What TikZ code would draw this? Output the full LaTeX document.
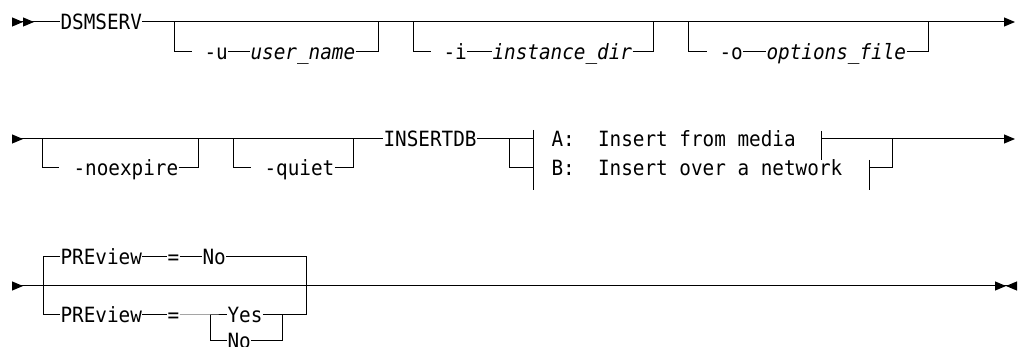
\documentclass[tikz,border=0pt]{standalone}
\usepackage{fontspec}
\setmonofont[FakeStretch=0.92]{DejaVu Sans Mono}
\usetikzlibrary{arrows.meta}

\begin{document}
\begin{tikzpicture}[
    x=1pt, y=-1pt,
    line width=1pt,
    tri/.tip={Triangle[length=11pt, width=9pt]},
    syntax word/.style={inner sep=0pt, anchor=west, text height=15.3pt, text depth=0pt, font=\ttfamily\fontsize{21}{24}\selectfont},
    syntax var/.style={syntax word, font=\ttfamily\itshape\fontsize{21}{24}\selectfont}
]
    \useasboundingbox (0,0) rectangle (1021,347);

    % ================= ROW 1: DSMSERV OPTIONS =================
    \coordinate (S1) at (12,22);
    \coordinate (E1) at (1015,22);
    \node[syntax word] (DSM) at (60,22) {DSMSERV};

    \coordinate (U_IN) at (174,22);
    \coordinate (U_OUT) at (378,22);
    \node[syntax word] (U) at (204,52) {-u};
    \node[syntax var] (UNAME) at (250,52) {user\_name};

    \coordinate (I_IN) at (413,22);
    \coordinate (I_OUT) at (653,22);
    \node[syntax word] (I) at (443,52) {-i};
    \node[syntax var] (IDIR) at (492,52) {instance\_dir};

    \coordinate (O_IN) at (688,22);
    \coordinate (O_OUT) at (928,22);
    \node[syntax word] (O) at (719,52) {-o};
    \node[syntax var] (OFILE) at (766,52) {options\_file};

    \draw[{tri[reversed]tri[reversed]}-] (S1) -- (DSM.west);
    \draw[-{tri}] (DSM.east) -- (E1);

    \draw (U_IN) |- ([xshift=-12pt]U.west);
    \draw (U) -- (UNAME);
    \draw (UNAME.east) -| (U_OUT);

    \draw (I_IN) |- ([xshift=-12pt]I.west);
    \draw (I) -- (IDIR);
    \draw (IDIR.east) -| (I_OUT);

    \draw (O_IN) |- ([xshift=-12pt]O.west);
    \draw (O) -- (OFILE);
    \draw (OFILE.east) -| (O_OUT);

    % ================= ROW 2: FLAGS AND INSERTDB =================
    \coordinate (S2) at (12,139);
    \coordinate (E2) at (1015,139);
    \node[syntax word] (INS) at (383,139) {INSERTDB};

    \coordinate (NX_IN) at (42,139);
    \coordinate (NX_OUT) at (198,139);
    \node[syntax word] (NX) at (73,168) {-noexpire};

    \coordinate (QT_IN) at (233,139);
    \coordinate (QT_OUT) at (353,139);
    \node[syntax word] (QT) at (264,168) {-quiet};

    \draw[{tri[reversed]}-] (S2) -- (INS.west);

    \draw (NX_IN) |- ([xshift=-14pt]NX.west);
    \draw (NX.east) -| (NX_OUT);

    \draw (QT_IN) |- ([xshift=-13pt]QT.west);
    \draw (QT.east) -| (QT_OUT);

    % fragments A and B
    \coordinate (BAR_TOP) at (533,130);
    \coordinate (BAR_BOT) at (533,190);
    \coordinate (SPLIT) at (509,139);
    \node[syntax word] (FA) at (551,139) {A:~~Insert from media};
    \node[syntax word] (FB) at (551,168) {B:~~Insert over a network};

    \coordinate (A_TOP) at (821,131);
    \coordinate (A_BOT) at (821,160);
    \coordinate (A_OUT) at (821,139);
    \coordinate (B_TOP) at (869,160);
    \coordinate (B_BOT) at (869,190);
    \coordinate (B_OUT) at (869,168);
    \coordinate (MERGE) at (892,139);

    \draw (INS.east) -- (BAR_TOP |- INS);
    \draw (BAR_TOP) -- (BAR_BOT);
    \draw (SPLIT) |- (BAR_TOP |- FB);

    \draw (A_TOP) -- (A_BOT);
    \draw (B_TOP) -- (B_BOT);
    \draw[-{tri}] (A_OUT) -- (E2);
    \draw (B_OUT) -| (MERGE);

    % ================= ROW 3: PREVIEW =================
    \coordinate (S3) at (12,286);
    \coordinate (E3) at (1017,286);

    \coordinate (PV_TL) at (43,257);
    \coordinate (PV_BL) at (43,315);
    \coordinate (PV_TR) at (306,257);
    \coordinate (PV_BR) at (306,315);

    \node[syntax word] (PV1) at (60,257) {PREview};
    \node[syntax word] (EQ1) at (167,257) {=};
    \node[syntax word] (NO1) at (202,257) {No};

    \node[syntax word] (PV2) at (60,315) {PREview};
    \node[syntax word] (EQ2) at (167,315) {=};
    \coordinate (YN_L) at (210,315);
    \coordinate (YN_R) at (282,315);
    \node[syntax word] (YES) at (227,315) {Yes};
    \node[syntax word] (NO2) at (227,341) {No};

    \draw[{tri[reversed]}-{tri[]tri[reversed]}] (S3) -- (E3);

    \draw (PV1.west) -- (PV_TL) -- (PV_BL) -- (PV2.west);
    \draw (PV1) -- (EQ1);
    \draw (EQ1) -- (NO1);
    \draw (NO1.east) -- (PV_TR) -- (PV_BR) -- (YN_R);

    \draw (PV2) -- (EQ2);
    \draw (EQ2.east) -- (YN_L) -- (YES.west);
    \draw (YN_L) |- (NO2.west);
    \draw (YES.east) -- (YN_R);
    \draw (NO2.east) -| (YN_R);

\end{tikzpicture}
\end{document}
